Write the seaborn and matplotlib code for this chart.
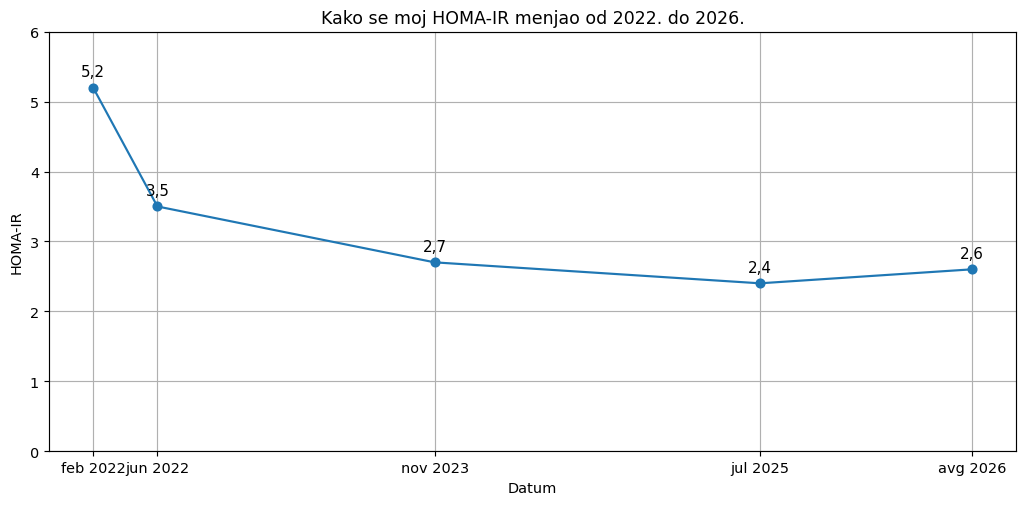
import matplotlib
matplotlib.use("Agg")
import matplotlib.pyplot as plt
import pandas as pd
import seaborn as sns

# Data
datumi = ["2022-02-01", "2022-06-01", "2023-11-01", "2025-07-01", "2026-08-01"]
oznake = ["feb 2022", "jun 2022", "nov 2023", "jul 2025", "avg 2026"]
homa_ir = [5.2, 3.5, 2.7, 2.4, 2.6]

df = pd.DataFrame({"Datum": pd.to_datetime(datumi), "HOMA-IR": homa_ir})

dpi = 104
fig, ax = plt.subplots(figsize=(1024 / dpi, 506 / dpi), dpi=dpi)
sns.lineplot(
    data=df, x="Datum", y="HOMA-IR", ax=ax,
    marker="o", color="#1f77b4", markersize=6,
    markeredgecolor="#1f77b4", markeredgewidth=1, linewidth=1.5,
)

for d, v in zip(df["Datum"], df["HOMA-IR"]):
    ax.annotate(f"{v:.1f}".replace(".", ","), (d, v), textcoords="offset points",
                xytext=(0, 8), ha="center", fontsize=10.5)

ax.set_xticks(df["Datum"])
ax.set_xticklabels(oznake)
ax.set_ylim(0, 6)
ax.grid(True)
ax.set_title("Kako se moj HOMA-IR menjao od 2022. do 2026.")
ax.set_xlabel("Datum")
ax.set_ylabel("HOMA-IR")
plt.tight_layout(pad=0.7)
plt.subplots_adjust(right=0.992)
plt.savefig("out.png", dpi=dpi)
